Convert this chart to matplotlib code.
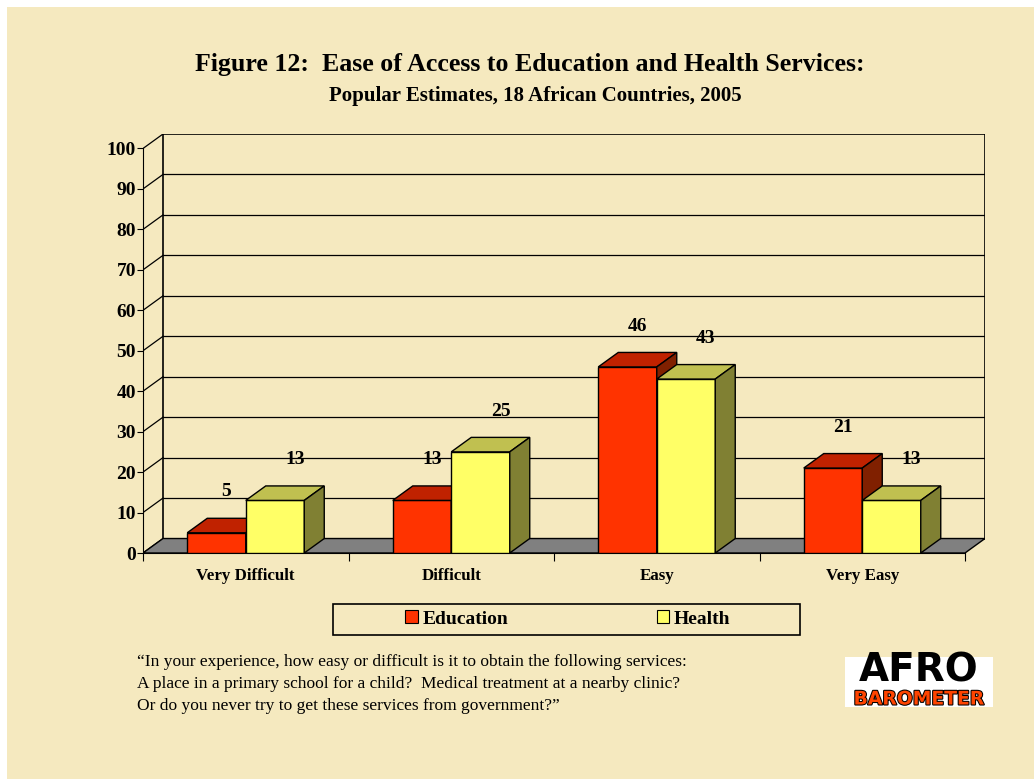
import matplotlib
matplotlib.use("Agg")
import matplotlib.pyplot as plt
from matplotlib.patches import Polygon, Rectangle
import matplotlib.patheffects as pe

categories = ["Very Difficult", "Difficult", "Easy", "Very Easy"]
education = [5, 13, 46, 21]
health = [13, 25, 43, 13]
series = ["Education", "Health"]

bg = "#F5E9BF"
front_cols = ["#FF3300", "#FFFF66"]
top_cols = ["#C02200", "#C0C050"]
side_cols = ["#802000", "#808033"]

plt.rcParams['font.family'] = ['Liberation Serif', 'DejaVu Serif']

fig = plt.figure(figsize=(10.34, 7.79), dpi=100)
fig.patch.set_facecolor("white")
fig.patches.append(Rectangle((7 / 1034, 0), 1, 1 - 7 / 779, transform=fig.transFigure,
                             facecolor=bg, edgecolor="none", zorder=-10))

# depth offsets of the fake 3d look (in data units)
dx = 20 / 205.5
dy = 14.5 / 4.05
bw = 58.5 / 205.5

ax = fig.add_axes([143 / 1034, (779 - 553) / 779, (985 - 143) / 1034, (553 - 134) / 779])
ax.set_xlim(0, 4 + dx)
ax.set_ylim(0, 100 + dy)
ax.patch.set_alpha(0)
for s in ["top", "right"]:
    ax.spines[s].set_visible(False)

# back wall, gridlines, side wall
ax.add_patch(Rectangle((dx, dy), 4, 100, facecolor="none", edgecolor="black", lw=1.2, zorder=1))
for v in range(10, 100, 10):
    ax.plot([dx, 4 + dx], [v + dy, v + dy], color="black", lw=0.9, zorder=1)
for v in range(0, 101, 10):
    ax.plot([0, dx], [v, v + dy], color="black", lw=0.9, zorder=1)
# floor
ax.add_patch(Polygon([(0, 0), (4, 0), (4 + dx, dy), (dx, dy)], closed=True,
                     facecolor="#808080", edgecolor="black", lw=1, zorder=2))

values = [education, health]
z = 3
for i in range(len(categories)):
    for k in range(2):
        v = values[k][i]
        x0 = i + 0.5 - bw + k * bw
        ax.bar(x0, v, width=bw, align="edge", color=front_cols[k], edgecolor="black",
               lw=1, zorder=z)
        ax.add_patch(Polygon([(x0, v), (x0 + bw, v), (x0 + bw + dx, v + dy), (x0 + dx, v + dy)],
                             closed=True, facecolor=top_cols[k], edgecolor="black", lw=1, zorder=z))
        ax.add_patch(Polygon([(x0 + bw, 0), (x0 + bw + dx, dy), (x0 + bw + dx, v + dy), (x0 + bw, v)],
                             closed=True, facecolor=side_cols[k], edgecolor="black", lw=1, zorder=z))
        ax.text(x0 + bw / 2 + dx * (0.5 + 0.5 * k), v + dy + 6.5, str(v), ha="center", va="center",
                fontsize=14, fontweight="bold", zorder=10)
        z += 1

ax.spines["left"].set_bounds(0, 100)
ax.spines["bottom"].set_bounds(0, 4)
ax.set_yticks(range(0, 101, 10))
ax.set_yticklabels([str(v) for v in range(0, 101, 10)], fontsize=14, fontweight="bold")
ax.set_xticks(range(5))
ax.set_xticklabels([])
ax.set_xticks([i + 0.5 for i in range(4)], minor=True)
ax.set_xticklabels(categories, minor=True, fontsize=12.2, fontweight="bold")
ax.tick_params(axis="x", which="minor", length=0, pad=11)
ax.tick_params(axis="x", which="major", length=6, direction="out")
ax.tick_params(axis="y", length=4, pad=1)

fig.text(0.512, 0.917, "Figure 12:  Ease of Access to Education and Health Services:",
         ha="center", va="center", fontsize=18.6, fontweight="bold")
fig.text(0.518, 0.877, "Popular Estimates, 18 African Countries, 2005",
         ha="center", va="center", fontsize=15, fontweight="bold")

# legend box
fig.patches.append(Rectangle((333 / 1034, 1 - 635 / 779), 467 / 1034, 31 / 779,
                             transform=fig.transFigure, facecolor=bg, edgecolor="black", lw=1.2))
handles = [Rectangle((0, 0), 1, 1, facecolor=c, edgecolor="black", lw=0.8) for c in front_cols]
fig.legend(handles, series, loc="center", bbox_to_anchor=(568 / 1034, 1 - 619 / 779),
           ncol=2, frameon=False, prop={"weight": "bold", "size": 14},
           handlelength=0.65, handleheight=0.65, handletextpad=0.25,
           columnspacing=7.6, borderpad=0, borderaxespad=0)

note = ("\u201cIn your experience, how easy or difficult is it to obtain the following services:\n"
        "A place in a primary school for a child?  Medical treatment at a nearby clinic?\n"
        "Or do you never try to get these services from government?\u201d")
fig.text(137 / 1034, 1 - 654 / 779, note, ha="left", va="top", fontsize=12.5, linespacing=1.5)

# logo
fig.patches.append(Rectangle((845 / 1034, 1 - 707 / 779), 148 / 1034, 50 / 779,
                             transform=fig.transFigure, facecolor="white", edgecolor="none"))
fig.text(919 / 1034, 1 - 671 / 779, "AFRO", ha="center", va="center", fontsize=28,
         fontweight="heavy", family="DejaVu Sans", color="black")
fig.text(919 / 1034, 1 - 699 / 779, "BAROMETER", ha="center", va="center", fontsize=13.5,
         fontweight="bold", family="DejaVu Sans", color="#FF4400",
         path_effects=[pe.withStroke(linewidth=1.5, foreground="black")])

fig.savefig("out.png", dpi=100, facecolor=fig.get_facecolor())
